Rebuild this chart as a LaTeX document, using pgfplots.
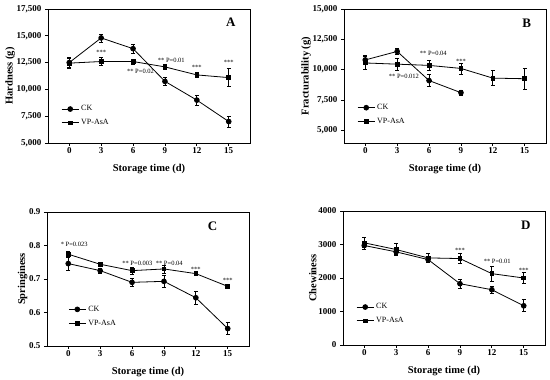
\documentclass[border=0pt]{standalone}
\usepackage{pgfplots}
\pgfplotsset{compat=1.18}
\usepackage{pgfplotstable}
\usepackage{fontspec}
\setmainfont{Liberation Serif}

\pgfplotstableread{
x y e
0 12500 470
3 14800 375
6 13800 400
9 10750 350
12 9000 470
15 7000 530
}\hardCK
\pgfplotstableread{
x y e
0 12450 470
3 12600 375
6 12600 220
9 12100 230
12 11350 230
15 11100 850
}\hardVP
\pgfplotstableread{
x y e
0 10800 380
3 11500 270
6 9100 500
9 8100 230
}\fracCK
\pgfplotstableread{
x y e
0 10550 540
3 10450 480
6 10350 440
9 10100 450
12 9300 600
15 9250 860
}\fracVP
\pgfplotstableread{
x y e
0 0.746 0.020
3 0.725 0.007
6 0.690 0.012
9 0.693 0.018
12 0.644 0.020
15 0.552 0.018
}\sprCK
\pgfplotstableread{
x y e
0 0.774 0.010
3 0.744 0.005
6 0.725 0.010
9 0.730 0.012
12 0.716 0.004
15 0.678 0.007
}\sprVP
\pgfplotstableread{
x y e
0 2970 100
3 2780 80
6 2550 80
9 1830 140
12 1650 100
15 1170 180
}\chewCK
\pgfplotstableread{
x y e
0 3050 150
3 2850 170
6 2600 130
9 2580 150
12 2130 220
15 2000 170
}\chewVP

\tikzset{
  ann/.style={font=\fontsize{6.5}{6.5}\selectfont, inner sep=0pt},
  lett/.style={font=\bfseries\fontsize{13}{13}\selectfont},
}
\pgfplotsset{
  panel/.style={
    width=202pt, height=134pt, scale only axis,
    xmin=-2, xmax=17, xtick={0,3,6,9,12,15},
    scaled y ticks=false,
    tick align=outside, xtick pos=left, ytick pos=left,
    major tick length=3pt,
    axis line style={line width=0.8pt},
    tick style={line width=0.8pt, black},
    ticklabel style={font=\bfseries\fontsize{9}{9}\selectfont},
    xticklabel style={yshift=2pt},
    label style={font=\bfseries\fontsize{10.5}{11}\selectfont},
    xlabel={Storage time (d)},
    xlabel style={yshift=-4pt},
    ylabel style={yshift=-5pt},
    /pgf/number format/assume math mode=true,
    legend style={draw=none, fill=none, font=\fontsize{8}{8}\selectfont, anchor=north west, row sep=3pt},
    legend cell align=left,
    clip=false,
  },
  ck/.style={black, line width=0.8pt, mark=*, mark size=2.4pt,
    error bars/.cd, y dir=both, y explicit, error bar style={line width=0.7pt}, error mark options={rotate=90, mark size=1.8pt, line width=0.7pt}},
  vp/.style={black, line width=0.8pt, mark=square*, mark size=1.9pt,
    error bars/.cd, y dir=both, y explicit, error bar style={line width=0.7pt}, error mark options={rotate=90, mark size=1.8pt, line width=0.7pt}},
}

\begin{document}
\begin{tikzpicture}
\useasboundingbox (0,0) rectangle (550pt,380pt);

% A
\begin{axis}[panel, at={(48pt,237pt)}, anchor=south west,
  ymin=5000, ymax=17500, ytick={5000,7500,10000,12500,15000,17500},
  /pgf/number format/1000 sep={,},
  ylabel={Hardness (g)},
  legend style={at={(0.05,0.31)}}]
\addplot[ck] table[x=x,y=y,y error=e] {\hardCK};
\addlegendentry{CK}
\addplot[vp] table[x=x,y=y,y error=e] {\hardVP};
\addlegendentry{VP-AsA}
\node[ann] at (3,13450) {***};
\node[ann] at (6.7,11720) {** P=0.02};
\node[ann] at (9.6,12720) {** P=0.01};
\node[ann] at (12,12100) {***};
\node[ann] at (15,12500) {***};
\node[lett] at (rel axis cs:0.905,0.90) {A};
\end{axis}

% B
\begin{axis}[panel, at={(344pt,237pt)}, anchor=south west,
  ymin=3950, ymax=15000, ytick={5000,7500,10000,12500,15000},
  /pgf/number format/1000 sep={,},
  ylabel={Fracturability (g)},
  legend style={at={(0.05,0.32)}}]
\addplot[ck] table[x=x,y=y,y error=e] {\fracCK};
\addlegendentry{CK}
\addplot[vp] table[x=x,y=y,y error=e] {\fracVP};
\addlegendentry{VP-AsA}
\node[ann] at (6.4,11380) {** P=0.04};
\node[ann] at (9,10670) {***};
\node[ann] at (3.64,9460) {** P=0.012};
\node[lett] at (rel axis cs:0.905,0.895) {B};
\end{axis}

% C
\begin{axis}[panel, at={(47pt,34pt)}, anchor=south west,
  ymin=0.5, ymax=0.9, ytick={0.5,0.6,0.7,0.8,0.9},
  yticklabel style={/pgf/number format/fixed, /pgf/number format/fixed zerofill, /pgf/number format/precision=1},
  ylabel={Springiness},
  legend style={at={(0.09,0.33)}}]
\addplot[ck] table[x=x,y=y,y error=e] {\sprCK};
\addlegendentry{CK}
\addplot[vp] table[x=x,y=y,y error=e] {\sprVP};
\addlegendentry{VP-AsA}
\node[ann] at (0.56,0.803) {* P=0.023};
\node[ann] at (6.5,0.746) {** P=0.003};
\node[ann] at (9.5,0.746) {** P=0.04};
\node[ann] at (12,0.728) {***};
\node[ann] at (15,0.695) {***};
\node[lett] at (rel axis cs:0.82,0.89) {C};
\end{axis}

% D
\begin{axis}[panel, at={(343pt,35pt)}, anchor=south west,
  ymin=0, ymax=4000, ytick={0,1000,2000,3000,4000},
  /pgf/number format/1000 sep={},
  ylabel={Chewiness},
  legend style={at={(0.05,0.34)}}]
\addplot[ck] table[x=x,y=y,y error=e] {\chewCK};
\addlegendentry{CK}
\addplot[vp] table[x=x,y=y,y error=e] {\chewVP};
\addlegendentry{VP-AsA}
\node[ann] at (9,2820) {***};
\node[ann] at (12.5,2500) {** P=0.01};
\node[ann] at (15,2230) {***};
\node[lett] at (rel axis cs:0.905,0.89) {D};
\end{axis}
\end{tikzpicture}
\end{document}
